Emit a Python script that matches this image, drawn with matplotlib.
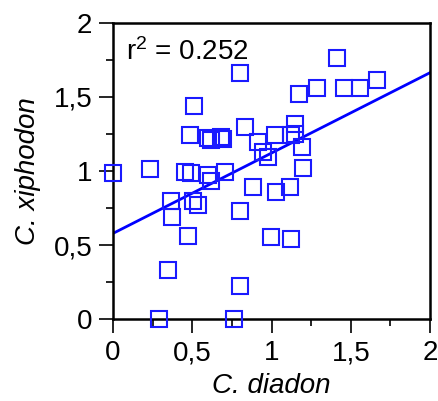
import numpy as np
import matplotlib
matplotlib.use("Agg")
import matplotlib.pyplot as plt
from matplotlib.ticker import MultipleLocator, FuncFormatter

# values
diadon = [0.00, 0.233, 0.29, 0.348, 0.363, 0.369, 0.453, 0.474, 0.484, 0.495,
          0.505, 0.509, 0.537, 0.600, 0.615, 0.600, 0.615, 0.684, 0.695, 0.706,
          0.760, 0.800, 0.803, 0.804, 0.830, 0.885, 0.914, 0.945, 0.980, 0.998,
          1.019, 1.030, 1.115, 1.120, 1.124, 1.145, 1.150, 1.172, 1.190, 1.200,
          1.285, 1.412, 1.457, 1.555, 1.665]
xiphodon = [0.99, 1.015, 0.00, 0.331, 0.800, 0.690, 0.995, 0.560, 1.240, 0.984,
            0.795, 1.440, 0.772, 1.220, 1.210, 0.975, 0.935, 1.232, 1.214, 0.995,
            0.00, 0.730, 0.225, 1.660, 1.295, 0.892, 1.195, 1.130, 1.095, 0.556,
            1.243, 0.860, 0.894, 0.540, 1.243, 1.320, 1.250, 1.522, 1.164, 1.018,
            1.563, 1.766, 1.560, 1.560, 1.615]
fit_intercept = 0.579
fit_slope = 0.5425
r2_text = "r$^{2}$ = 0.252"

plt.rcParams['font.family'] = ['Liberation Sans', 'DejaVu Sans']
plt.rcParams['mathtext.default'] = 'regular'

fig = plt.figure(figsize=(4.38, 4.01), dpi=100)
ax = fig.add_axes([0.258, 0.204, 0.724, 0.739])

blue = '#1a1aff'
ax.plot(diadon, xiphodon, linestyle='none', marker='s', markersize=12,
        markerfacecolor='none', markeredgecolor=blue, markeredgewidth=1.5,
        clip_on=False, zorder=3)

xs = np.array([0.0, 2.0])
ax.plot(xs, fit_intercept + fit_slope * xs, color='#0000ff', linewidth=2.0, zorder=2)

ax.set_xlim(0, 2)
ax.set_ylim(0, 2)

comma = FuncFormatter(lambda v, p: ('%g' % v).replace('.', ','))
for axis in (ax.xaxis, ax.yaxis):
    axis.set_major_locator(MultipleLocator(0.5))
    axis.set_minor_locator(MultipleLocator(0.25))
    axis.set_major_formatter(comma)

ax.tick_params(which='major', direction='out', length=10, width=1.2,
               labelsize=20, pad=5)
ax.tick_params(which='minor', direction='out', length=5, width=1.2)
for s in ax.spines.values():
    s.set_linewidth(1.8)

ax.set_xlabel('C. diadon', fontsize=20, style='italic', labelpad=5)
ax.set_ylabel('C. xiphodon', fontsize=20, style='italic', labelpad=9)

ax.text(0.04, 0.874, r2_text, transform=ax.transAxes, fontsize=20,
        ha='left', va='baseline')

fig.savefig('out.png', dpi=100)
